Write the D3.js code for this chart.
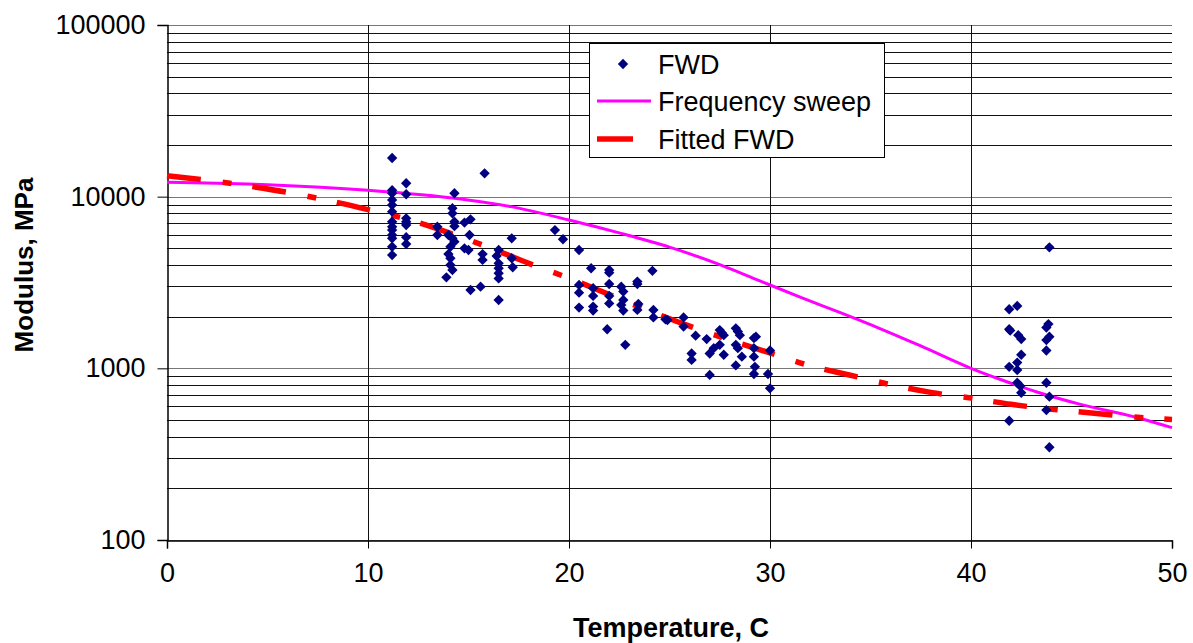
<!DOCTYPE html>
<html>
<head>
<meta charset="utf-8">
<script src="https://cdn.jsdelivr.net/npm/d3@7"></script>
<style>
  body { margin: 0; background: #fff; }
  svg { display: block; font-family: Arial, "Liberation Sans", sans-serif; }
</style>
</head>
<body>
<div id="chart"></div>
<script>
// FWD measurements: temperature (C) and modulus (MPa)
var fwdTemp = [
  11.2, 11.2, 11.2, 11.2, 11.2, 11.2, 11.2, 11.2, 11.2, 11.2, 11.2, 11.2, 11.2,
  11.9, 11.9, 11.9, 11.9, 11.9, 11.9, 11.9,
  13.45, 13.45,
  14.3, 14.2, 14.2, 14.3, 14.3, 14.0, 14.2, 14.3, 14.1, 14.0, 14.1, 14.1, 14.2, 13.9,
  14.8, 14.8, 15.1, 15.05, 15.0, 15.1,
  15.7, 15.7, 15.6, 15.8,
  16.5, 16.4, 16.5, 16.5, 16.5, 16.5, 16.5,
  17.15, 17.15, 17.2,
  19.3, 19.7, 20.5, 21.1, 20.5, 20.5, 20.5, 21.2, 21.2, 21.2, 21.2,
  22.0, 22.0, 22.0, 22.0, 22.0, 21.9, 22.6, 22.7, 22.7, 22.6, 22.7, 22.8,
  23.4, 23.4, 23.45, 23.4, 24.15, 24.2, 24.2, 24.8, 24.9, 25.7, 25.7,
  26.3, 26.85, 27.0, 27.2, 26.1, 26.1, 27.0,
  27.5, 27.6, 27.7, 27.5, 27.7, 28.3, 28.4, 28.5, 28.3, 28.4, 28.3, 28.6,
  29.2, 29.3, 29.2, 29.2, 29.25, 29.2, 30.0, 29.9, 30.0,
  43.9, 41.9, 42.3, 41.9, 41.95, 42.35, 42.5, 42.5, 41.9, 42.3, 42.3, 42.3, 42.45, 42.5, 41.9,
  43.85, 43.75, 43.9, 43.75, 43.75, 43.75, 43.9, 43.75, 43.9
];
var fwdModulus = [
  16800, 10900, 10470, 9570, 8940, 8180, 7140, 6680, 6390, 5980, 5720, 5110, 4570,
  11970, 10330, 7480, 7140, 6840, 5800, 5300,
  6680, 5980,
  10470, 8560, 8000, 7140, 6730, 5980, 5720, 5470, 5110, 4630, 4380, 4000, 3740, 3390,
  7060, 5000, 7380, 5980, 4890, 2860,
  4630, 4280, 2990, 13680,
  4890, 4510, 4090, 3830, 3580, 3340, 2500,
  5720, 4380, 3880,
  6390, 5650, 4890, 3830, 3060, 2760, 2260, 2930, 2640, 2290, 2170,
  3740, 3610, 3100, 2640, 2390, 1690, 2990, 2800, 2500, 2340, 2170, 1370,
  3200, 3100, 2370, 2190, 3700, 2190, 1980, 1930, 1910, 1980, 1750,
  1550, 1480, 1220, 1310, 1220, 1120, 915,
  1670, 1610, 1560, 1370, 1200, 1710, 1640, 1560, 1370, 1310, 1040, 1170,
  1500, 1530, 1310, 1170, 1020, 927, 1270, 927, 765,
  5070, 2210, 2310, 1690, 1660, 1560, 1480, 1200, 1020, 1080, 978, 824, 789, 721, 495,
  1810, 1730, 1530, 1460, 1270, 824, 684, 571, 347
];

// frequency sweep master curve
var sweepTemp = [0, 5, 10, 14.6, 17.1, 20, 22.5, 25, 27.5, 29.5, 31.5, 33.5, 35.5, 37.5, 40, 41.4, 43.4, 45.4, 48.2, 50];
var sweepModulus = [12130, 11750, 10900, 9690, 8750, 7310, 6150, 5080, 4020, 3230, 2600, 2110, 1700, 1350, 1000, 867, 721, 619, 519, 451];

// fitted FWD curve
var fitTemp = [0, 2, 4, 6, 8, 10, 12, 14, 16, 18, 20, 22, 24, 26, 28, 30, 32, 34, 36, 38, 40, 42, 44, 46, 48, 50];
var fitModulus = [13250, 12450, 11560, 10590, 9510, 8410, 7350, 6170, 5070, 4090, 3350, 2690, 2160, 1760, 1460, 1230, 1035, 912, 804, 724, 671, 617, 578, 550, 522, 504];

var xTicks = [0, 10, 20, 30, 40, 50];
var yTicks = [100, 1000, 10000, 100000];

var width = 1193, height = 643;
var margin = {top: 25, right: 21, bottom: 103, left: 167};

var svg = d3.select("#chart")
  .append("svg")
  .attr("width", width)
  .attr("height", height);

var x = d3.scaleLinear()
  .domain([0, 50])
  .range([margin.left, width - margin.right]);

var y = d3.scaleLog()
  .domain([100, 100000])
  .range([height - margin.bottom, margin.top]);

// horizontal gridlines at every 1..9 x 10^k
var gridVals = [];
for (var k = 2; k <= 4; k++) {
  for (var m = 1; m <= 9; m++) gridVals.push(m * Math.pow(10, k));
}
gridVals.push(100000);

svg.append("g")
  .selectAll("line")
  .data(gridVals)
  .enter()
  .append("line")
  .attr("x1", x(0))
  .attr("x2", x(50))
  .attr("y1", function (d) { return Math.round(y(d)) + 0.5; })
  .attr("y2", function (d) { return Math.round(y(d)) + 0.5; })
  .attr("stroke", function (d) { return yTicks.indexOf(d) >= 0 ? "#777" : "#111"; })
  .attr("stroke-width", 1);

// vertical gridlines
svg.append("g")
  .selectAll("line")
  .data([10, 20, 30, 40])
  .enter()
  .append("line")
  .attr("x1", function (d) { return Math.round(x(d)) + 0.5; })
  .attr("x2", function (d) { return Math.round(x(d)) + 0.5; })
  .attr("y1", y(100000))
  .attr("y2", y(100))
  .attr("stroke", "#111")
  .attr("stroke-width", 1);

// axes
var xAxis = svg.append("g")
  .attr("transform", "translate(0," + (Math.round(y(100)) + 0.5) + ")")
  .call(d3.axisBottom(x).tickValues(xTicks).tickSize(8).tickPadding(14).tickFormat(d3.format("d")));

var yAxis = svg.append("g")
  .attr("transform", "translate(" + (Math.round(x(0)) + 0.5) + ",0)")
  .call(d3.axisLeft(y).tickValues(yTicks).tickSize(10).tickPadding(12).tickFormat(d3.format("d")));

[xAxis, yAxis].forEach(function (g) {
  g.select(".domain").attr("stroke", "#000").attr("stroke-width", 1.5);
  g.selectAll(".tick line").attr("stroke", "#000");
  g.selectAll("text")
    .attr("font-family", "Arial, 'Liberation Sans', sans-serif")
    .attr("font-size", 27)
    .attr("fill", "#000");
});
xAxis.selectAll("text").attr("dy", "0.71em");

// lines
var line = d3.line()
  .x(function (d) { return x(d[0]); })
  .y(function (d) { return y(d[1]); })
  .curve(d3.curveMonotoneX);

svg.append("path")
  .datum(d3.zip(sweepTemp, sweepModulus))
  .attr("d", line)
  .attr("fill", "none")
  .attr("stroke", "#ff00ff")
  .attr("stroke-width", 3);

svg.append("path")
  .datum(d3.zip(fitTemp, fitModulus))
  .attr("d", line)
  .attr("fill", "none")
  .attr("stroke", "#ff0000")
  .attr("stroke-width", 5.5)
  .attr("stroke-dasharray", "34,22,9,21");

// FWD points
var diamond = d3.symbol().type(d3.symbolDiamond2).size(68);

svg.append("g")
  .selectAll("path")
  .data(d3.zip(fwdTemp, fwdModulus))
  .enter()
  .append("path")
  .attr("d", diamond)
  .attr("transform", function (d) { return "translate(" + x(d[0]) + "," + y(d[1]) + ")"; })
  .attr("fill", "#000080");

// axis titles
svg.append("text")
  .attr("x", 671)
  .attr("y", 637)
  .attr("text-anchor", "middle")
  .attr("font-size", 27)
  .attr("font-weight", "bold")
  .text("Temperature, C");

svg.append("text")
  .attr("transform", "translate(33,265) rotate(-90)")
  .attr("text-anchor", "middle")
  .attr("font-size", 26)
  .attr("font-weight", "bold")
  .text("Modulus, MPa");

// legend
var legend = svg.append("g");
legend.append("rect")
  .attr("x", 589.5)
  .attr("y", 43.5)
  .attr("width", 295)
  .attr("height", 114)
  .attr("fill", "#fff")
  .attr("stroke", "#000")
  .attr("stroke-width", 1);

legend.append("path")
  .attr("d", diamond)
  .attr("transform", "translate(623,64)")
  .attr("fill", "#000080");

legend.append("line")
  .attr("x1", 597).attr("x2", 651)
  .attr("y1", 101).attr("y2", 101)
  .attr("stroke", "#ff00ff")
  .attr("stroke-width", 3);

legend.append("line")
  .attr("x1", 597).attr("x2", 633)
  .attr("y1", 139).attr("y2", 139)
  .attr("stroke", "#ff0000")
  .attr("stroke-width", 5.5);

var legendLabels = ["FWD", "Frequency sweep", "Fitted FWD"];
legend.selectAll("text.lbl")
  .data(legendLabels)
  .enter()
  .append("text")
  .attr("class", "lbl")
  .attr("x", 658)
  .attr("y", function (d, i) { return 64 + i * 37.5; })
  .attr("dy", "0.36em")
  .attr("font-size", 27)
  .text(function (d) { return d; });
</script>
</body>
</html>
